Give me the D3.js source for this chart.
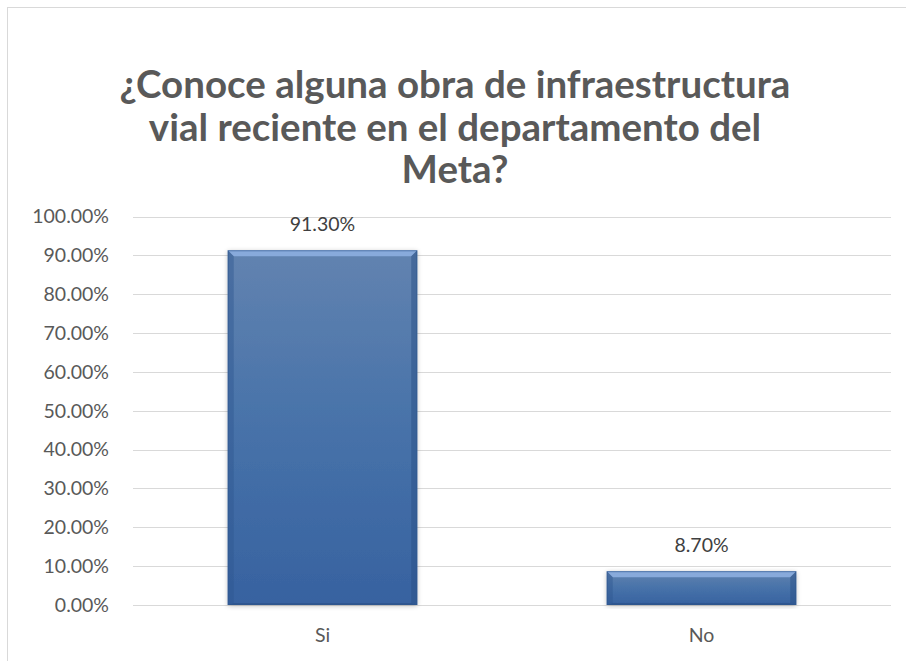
<!DOCTYPE html>
<html>
<head>
<meta charset="utf-8">
<script src="https://cdn.jsdelivr.net/npm/d3@7"></script>
<style>
  html, body { margin: 0; padding: 0; background: #ffffff; }
  svg { display: block; }
</style>
</head>
<body>
<svg id="chart" width="906" height="661"></svg>
<script>
const titleLines = ["¿Conoce alguna obra de infraestructura", "vial reciente en el departamento del", "Meta?"];
const categories = ["Si", "No"];
const values = [0.913, 0.087];
const valueLabels = ["91.30%", "8.70%"];
const yTicks = [0, 0.1, 0.2, 0.3, 0.4, 0.5, 0.6, 0.7, 0.8, 0.9, 1.0];

const svg = d3.select("#chart");
const W = 906, H = 661;
const font = "Lato, 'Carlito', 'Open Sans', sans-serif";

// chart frame
svg.append("rect").attr("x", 7.5).attr("y", 7.5).attr("width", W + 20).attr("height", H + 20)
  .attr("fill", "#ffffff").attr("stroke", "#d9d9d9").attr("stroke-width", 1);

// title
const title = svg.append("text").attr("text-anchor", "middle")
  .attr("font-family", font).attr("font-weight", 700).attr("font-size", 38.5)
  .attr("fill", "#595959");
const titleY = [98, 141, 183];
titleLines.forEach((t, i) => {
  title.append("tspan").attr("x", 455).attr("y", titleY[i]).text(t);
});

const plot = { left: 133, right: 891, top: 216.5, bottom: 605 };

const y = d3.scaleLinear().domain([0, 1]).range([plot.bottom, plot.top]);
const x = d3.scaleBand().domain(categories).range([plot.left, plot.right])
  .paddingInner(0.5).paddingOuter(0.25);

// gridlines
svg.append("g").selectAll("line").data(yTicks).join("line")
  .attr("x1", plot.left).attr("x2", plot.right)
  .attr("y1", d => Math.round(y(d)) + 0.5).attr("y2", d => Math.round(y(d)) + 0.5)
  .attr("stroke", "#d9d9d9").attr("stroke-width", 1);

const labelSize = 19.5;

// y axis labels
const yAxis = d3.axisLeft(y).tickValues(yTicks).tickSize(0).tickPadding(0)
  .tickFormat(d => (d * 100).toFixed(2) + "%");
const gy = svg.append("g").attr("transform", `translate(${plot.left - 24},0)`).call(yAxis);
gy.select(".domain").remove();
gy.selectAll("text").attr("font-family", font).attr("font-size", labelSize).attr("fill", "#595959");

// x axis labels
const xAxis = d3.axisBottom(x).tickSize(0).tickPadding(0);
const gx = svg.append("g").attr("transform", `translate(0,${plot.bottom + 23})`).call(xAxis);
gx.select(".domain").remove();
gx.selectAll("text").attr("font-family", font).attr("font-size", labelSize).attr("fill", "#595959");

// defs
const defs = svg.append("defs");
const grad = defs.append("linearGradient").attr("id", "barGrad")
  .attr("x1", 0).attr("y1", 0).attr("x2", 0).attr("y2", 1);
grad.append("stop").attr("offset", "0%").attr("stop-color", "#6283b0");
grad.append("stop").attr("offset", "50%").attr("stop-color", "#4772a9");
grad.append("stop").attr("offset", "100%").attr("stop-color", "#3762a0");
const shadow = defs.append("filter").attr("id", "shadow").attr("x", "-10%").attr("y", "-10%")
  .attr("width", "120%").attr("height", "120%");
shadow.append("feGaussianBlur").attr("in", "SourceAlpha").attr("stdDeviation", 2.5).attr("result", "b");
shadow.append("feOffset").attr("in", "b").attr("dx", 0).attr("dy", 1).attr("result", "o");
shadow.append("feComponentTransfer").attr("in", "o").attr("result", "s")
  .append("feFuncA").attr("type", "linear").attr("slope", 0.25);
const merge = shadow.append("feMerge");
merge.append("feMergeNode").attr("in", "s");
merge.append("feMergeNode").attr("in", "SourceGraphic");

const data = categories.map((c, i) => ({ c, v: values[i], label: valueLabels[i] }));
const bars = svg.append("g").selectAll("g").data(data).join("g");

bars.each(function(d) {
  const g = d3.select(this);
  const x0 = x(d.c), x1 = x(d.c) + x.bandwidth();
  const y0 = y(d.v), y1 = y(0);
  const b = 6;
  g.append("rect").attr("x", x0).attr("y", y0).attr("width", x1 - x0).attr("height", y1 - y0)
    .attr("fill", "url(#barGrad)").attr("filter", "url(#shadow)");
  // bevels
  const poly = pts => pts.map(p => p.join(",")).join(" ");
  g.append("polygon").attr("points", poly([[x0, y0], [x1, y0], [x1 - b, y0 + b], [x0 + b, y0 + b]]))
    .attr("fill", "#8fb2e3").attr("opacity", 0.85);
  g.append("polygon").attr("points", poly([[x0, y0], [x0 + b, y0 + b], [x0 + b, y1 - 2], [x0, y1]]))
    .attr("fill", "#2f5690").attr("opacity", 0.45);
  g.append("polygon").attr("points", poly([[x1, y0], [x1, y1], [x1 - b, y1 - 2], [x1 - b, y0 + b]]))
    .attr("fill", "#2a4f86").attr("opacity", 0.5);
  g.append("polygon").attr("points", poly([[x0, y1], [x0 + b, y1 - 2], [x1 - b, y1 - 2], [x1, y1]]))
    .attr("fill", "#2a4f86").attr("opacity", 0.6);
  g.append("rect").attr("x", x0 + 0.5).attr("y", y0 + 0.5).attr("width", x1 - x0 - 1).attr("height", y1 - y0 - 1)
    .attr("fill", "none").attr("stroke", "#2f568e").attr("stroke-width", 1).attr("opacity", 0.6);
  // value label
  g.append("text").attr("x", (x0 + x1) / 2).attr("y", y0 - 19).attr("text-anchor", "middle")
    .attr("font-family", font).attr("font-size", labelSize).attr("fill", "#404040").text(d.label);
});
</script>
</body>
</html>
